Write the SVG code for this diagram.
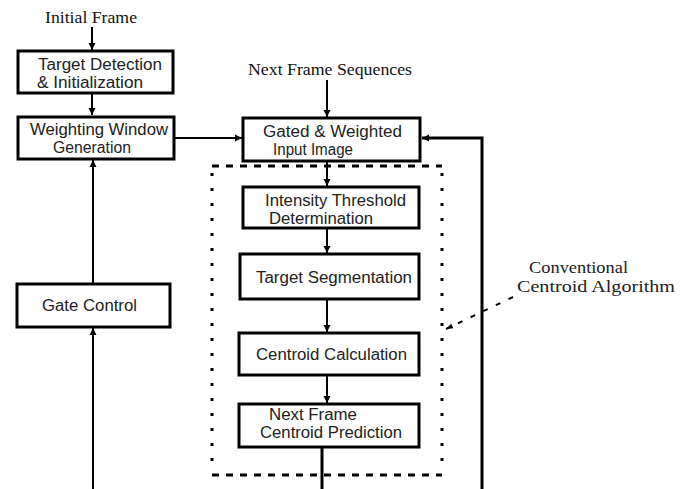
<svg xmlns="http://www.w3.org/2000/svg" width="685" height="489" viewBox="0 0 685 489">
<defs>
<marker id="ah" markerWidth="8" markerHeight="8" refX="7" refY="4" orient="auto" markerUnits="userSpaceOnUse">
<path d="M0,0.5 L7,4 L0,7.5 Z" fill="#000"/>
</marker>
<marker id="ahs" markerWidth="8" markerHeight="8" refX="7" refY="4" orient="auto" markerUnits="userSpaceOnUse">
<path d="M0,1.5 L7,4 L0,6.5 Z" fill="#000"/>
</marker>
</defs>
<style>
.box{fill:#fff;stroke:#000;stroke-width:3}
.t{font-family:"Liberation Sans",Arial,sans-serif;font-size:16px;fill:#222}
.s{font-family:"Liberation Serif","Times New Roman",serif;font-size:16px;fill:#111}
.s2{font-family:"Liberation Serif","Times New Roman",serif;font-size:17px;fill:#222}
.c{stroke:#000;stroke-width:2;fill:none}
.cb{stroke:#000;stroke-width:3;fill:none}
</style>
<rect width="685" height="489" fill="#fff"/>
<g id="labels">
<text class="s" x="45" y="23" textLength="92" lengthAdjust="spacingAndGlyphs">Initial Frame</text>
<text class="s" x="248" y="75" textLength="164" lengthAdjust="spacingAndGlyphs">Next Frame Sequences</text>
<text class="s2" x="529" y="273" textLength="99" lengthAdjust="spacingAndGlyphs">Conventional</text>
<text class="s2" x="517" y="292" textLength="158" lengthAdjust="spacingAndGlyphs">Centroid Algorithm</text>
</g>
<g id="dotted-region">
<line x1="212" y1="166" x2="442" y2="166" stroke="#000" stroke-width="3" stroke-dasharray="7,7"/>
<line x1="212" y1="475" x2="442" y2="475" stroke="#000" stroke-width="3" stroke-dasharray="7,7"/>
<line x1="212" y1="173" x2="212" y2="472" stroke="#000" stroke-width="3" stroke-dasharray="3,12"/>
<line x1="442" y1="173" x2="442" y2="472" stroke="#000" stroke-width="3" stroke-dasharray="3,12"/>
</g>
<g id="connectors">
<line class="c" x1="92" y1="27" x2="92" y2="50" marker-end="url(#ah)"/>
<line class="c" x1="92" y1="94" x2="92" y2="115" marker-end="url(#ah)"/>
<line class="c" x1="175" y1="138" x2="242" y2="138" marker-end="url(#ah)"/>
<line class="c" x1="327" y1="80" x2="327" y2="117" marker-end="url(#ah)"/>
<polyline class="cb" points="482,489 482,138 422,138" marker-end="url(#ah)"/>
<line class="c" x1="327" y1="162" x2="327" y2="186" marker-end="url(#ah)"/>
<line class="c" x1="327" y1="229" x2="327" y2="253" marker-end="url(#ah)"/>
<line class="c" x1="327" y1="300" x2="327" y2="332" marker-end="url(#ah)"/>
<line class="c" x1="327" y1="376" x2="327" y2="403" marker-end="url(#ah)"/>
<line class="cb" x1="322" y1="448" x2="322" y2="489"/>
<line class="c" x1="93" y1="283" x2="93" y2="160" marker-end="url(#ah)"/>
<line class="c" x1="93" y1="489" x2="93" y2="328" marker-end="url(#ah)"/>
<line x1="513" y1="297" x2="446" y2="329" stroke="#000" stroke-width="2" stroke-dasharray="5,9" marker-end="url(#ahs)"/>
</g>
<g id="target-detection">
<rect class="box" x="18" y="51" width="155" height="42"/>
<text class="t" x="38" y="70" textLength="124" lengthAdjust="spacingAndGlyphs">Target Detection</text>
<text class="t" x="37" y="88" textLength="106" lengthAdjust="spacingAndGlyphs">&amp; Initialization</text>
</g>
<g id="weighting-window">
<rect class="box" x="18" y="117" width="156" height="42"/>
<text class="t" x="30" y="135" textLength="138" lengthAdjust="spacingAndGlyphs">Weighting Window</text>
<text class="t" x="53" y="153" textLength="78" lengthAdjust="spacingAndGlyphs">Generation</text>
</g>
<g id="gate-control">
<rect class="box" x="17" y="284" width="153" height="43"/>
<text class="t" x="42" y="311" textLength="95" lengthAdjust="spacingAndGlyphs">Gate Control</text>
</g>
<g id="gated-weighted">
<rect class="box" x="243" y="118" width="177" height="43"/>
<text class="t" x="263" y="137" textLength="139" lengthAdjust="spacingAndGlyphs">Gated &amp; Weighted</text>
<text class="t" x="273" y="155" textLength="80" lengthAdjust="spacingAndGlyphs">Input Image</text>
</g>
<g id="intensity-threshold">
<rect class="box" x="243" y="187" width="176" height="41"/>
<text class="t" x="265" y="206" textLength="141" lengthAdjust="spacingAndGlyphs">Intensity Threshold</text>
<text class="t" x="269" y="224" textLength="104" lengthAdjust="spacingAndGlyphs">Determination</text>
</g>
<g id="target-segmentation">
<rect class="box" x="240" y="254" width="179" height="45"/>
<text class="t" x="256" y="283" textLength="156" lengthAdjust="spacingAndGlyphs">Target Segmentation</text>
</g>
<g id="centroid-calculation">
<rect class="box" x="239" y="333" width="180" height="42"/>
<text class="t" x="256" y="360" textLength="151" lengthAdjust="spacingAndGlyphs">Centroid Calculation</text>
</g>
<g id="next-frame-prediction">
<rect class="box" x="239" y="404" width="180" height="43"/>
<text class="t" x="269" y="420" textLength="88" lengthAdjust="spacingAndGlyphs">Next Frame</text>
<text class="t" x="260" y="438" textLength="142" lengthAdjust="spacingAndGlyphs">Centroid Prediction</text>
</g>
</svg>
